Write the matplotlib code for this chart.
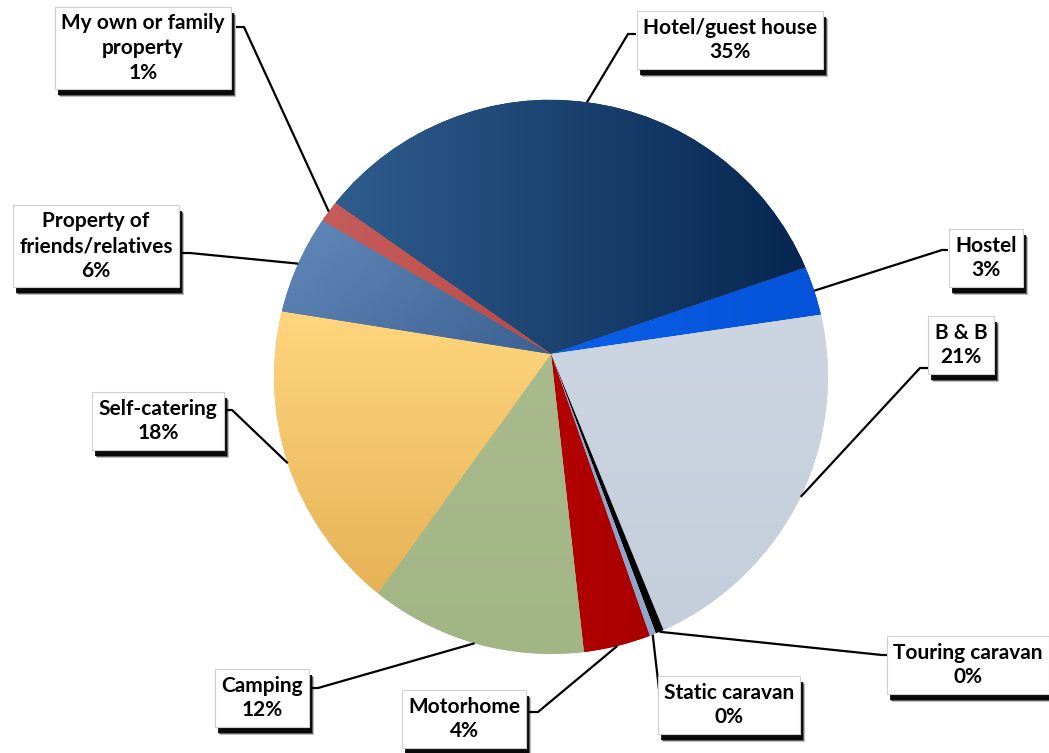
import numpy as np
import matplotlib
matplotlib.use("Agg")
import matplotlib.pyplot as plt
from matplotlib.path import Path
from matplotlib.patches import PathPatch, Rectangle
from matplotlib.colors import LinearSegmentedColormap

plt.rcParams['font.family'] = ['Lato', 'DejaVu Sans']

W, H = 1049, 753

categories = ["Hotel/guest house", "Hostel", "B & B", "Touring caravan", "Static caravan",
              "Motorhome", "Camping", "Self-catering", "Property of\nfriends/relatives",
              "My own or family\nproperty"]
shares = [35.0, 2.9, 21.1, 0.45, 0.35, 3.6, 11.7, 17.5, 5.9, 1.3]
pct_labels = ["35%", "3%", "21%", "0%", "0%", "4%", "12%", "18%", "6%", "1%"]

# (light, dark, direction light->dark in degrees) per slice
colours = [("#2f5d8e", "#062650", 0), ("#0b5fe8", "#0453d8", 0), ("#ccd5e0", "#c4cfdb", -90),
           ("#000000", "#000000", 0), ("#8fa6cc", "#8fa6cc", 0), ("#b30000", "#a80000", 0),
           ("#a9bb8c", "#a2b585", -90), ("#ffd67e", "#e6b256", -90), ("#6289bb", "#3b6191", -30),
           ("#c65d5a", "#b94b48", 0)]

# label box centres (pixels, y down) and the start of each leader line
box_xy = [(730, 40), (986, 258), (961, 345), (968, 665), (729, 705),
          (464, 719), (262, 698), (158, 421), (96, 246), (143, 48)]
lead_xy = [(636, 34, -8), (948, 250, -6), (928, 368, -8), (890, 655, -8), (668, 698, -8),
           (528, 712, 10), (308, 688, 10), (222, 410, 10), (180, 253, 10), (236, 27, 8)]

apex = np.array([551.0, H - 354.0])
circ_c = np.array([551.0, H - 377.0])
circ_r = 277.0
pie_r = 100.0


def rim_dist(u):
    w = apex - circ_c
    b = u @ w
    return -b + np.sqrt(b * b - (w @ w - circ_r ** 2))


def warp(pt):
    d = np.asarray(pt) - apex
    n = np.hypot(*d)
    if n < 1e-9:
        return apex.copy()
    u = d / n
    return apex + (n / pie_r) * rim_dist(u) * u


def gradient(ax, patch, c1, c2, ang):
    ext = patch.get_path().get_extents()
    yy, xx = np.mgrid[0:1:200j, 0:1:200j]
    a = np.deg2rad(ang)
    g = xx * np.cos(a) + yy * np.sin(a)
    g = (g - g.min()) / (g.max() - g.min())
    cmap = LinearSegmentedColormap.from_list("g", [c1, c2])
    im = ax.imshow(g, cmap=cmap, extent=[ext.x0, ext.x1, ext.y0, ext.y1],
                   origin="lower", aspect="auto", zorder=2, interpolation="bilinear")
    im.set_clip_path(patch)


fig = plt.figure(figsize=(W / 100, H / 100), dpi=100)
ax = fig.add_axes([0, 0, 1, 1])

wedges, _ = ax.pie(shares, center=tuple(apex), radius=pie_r, startangle=145,
                   counterclock=False, frame=True)
ax.set_xlim(0, W)
ax.set_ylim(0, H)
ax.set_aspect("auto")
ax.axis("off")

texts = []
for i, wdg in enumerate(wedges):
    p = wdg.get_path()
    verts = np.array([warp(v) for v in p.vertices])
    patch = PathPatch(Path(verts, p.codes), facecolor=colours[i][1], edgecolor="none", zorder=2)
    ax.add_patch(patch)
    if colours[i][0] != colours[i][1]:
        gradient(ax, patch, colours[i][0], colours[i][1], colours[i][2])
    wdg.remove()

    # leader line from label box to slice rim
    mid = np.deg2rad((wdg.theta1 + wdg.theta2) / 2)
    u = np.array([np.cos(mid), np.sin(mid)])
    end = apex + rim_dist(u) * u
    lx, ly, tick = lead_xy[i]
    ax.plot([lx, lx + tick, end[0]], [H - ly, H - ly, end[1]], color="black", lw=1.6,
            zorder=3, solid_capstyle="butt")

    txt = categories[i] + "\n" + pct_labels[i]
    bx, by = box_xy[i]
    t = ax.text(bx, H - by, txt, ha="center", va="center", fontsize=15,
                fontweight="bold", color="black", linespacing=1.3, zorder=6,
                bbox=dict(boxstyle="square,pad=0.3", fc="white", ec="#d0d0d0", lw=0.8))
    texts.append(t)

# drop shadows under the label boxes
fig.canvas.draw()
for t in texts:
    bb = t.get_bbox_patch().get_window_extent()
    for k, (dx, dy, al) in enumerate([(5, -8, 0.25), (4, -7, 0.5), (3, -6, 0.9)]):
        sh = Rectangle((bb.x0 + dx, bb.y0 + dy), bb.width, bb.height, transform=None,
                       facecolor="black", edgecolor="none", alpha=al, zorder=5)
        ax.add_artist(sh)

fig.savefig("out.png", dpi=100, facecolor="white")
